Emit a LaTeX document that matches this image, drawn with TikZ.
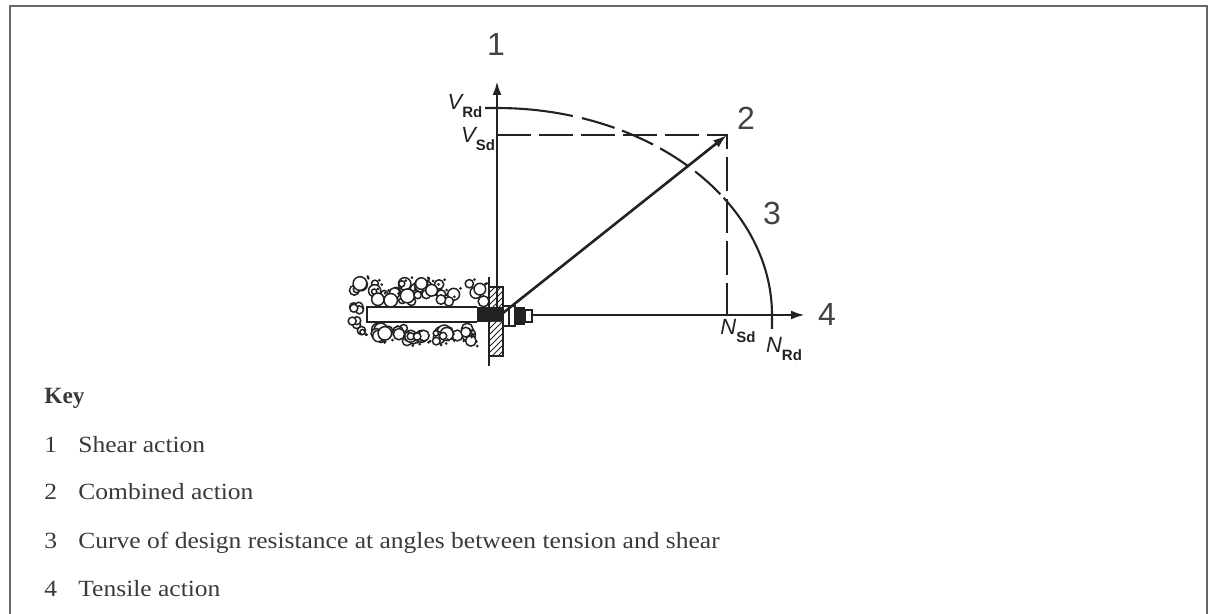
\documentclass[tikz,border=0pt]{standalone}
\usepackage{fontspec}
\setmainfont{Liberation Serif}
\newfontfamily\keyfont[FakeStretch=1.1]{Liberation Serif}
\newfontfamily\isofont{Liberation Sans}
\usetikzlibrary{positioning, arrows.meta, calc, patterns}
\definecolor{ink}{HTML}{222222}
\definecolor{keyink}{HTML}{3a3a3a}
\definecolor{framegray}{HTML}{666666}
\newcommand{\symlbl}[2]{{\itshape #1}\raisebox{-0.32em}{\fontsize{7.5}{8}\selectfont\bfseries #2}}

\begin{document}
\begin{tikzpicture}[x=0.5pt, y=-0.5pt,
  axis/.style={draw=ink, line width=1.3pt, -{Latex[length=7pt, width=4.5pt]}},
  guide/.style={draw=ink, line width=1.05pt, dash pattern=on 17pt off 4pt},
  curvepart/.style={draw=ink, line width=1.05pt},
  num/.style={font=\isofont\fontsize{16}{16}\selectfont, text=ink!85, inner sep=0pt},
  sym/.style={font=\isofont\fontsize{11}{11}\selectfont, text=ink, inner sep=0pt},
  keytext/.style={font=\keyfont\fontsize{11.6}{13}\selectfont, text=keyink, anchor=base west, inner sep=0pt},
  stone/.style={draw=ink, line width=0.75pt, fill=white}
]
  \useasboundingbox (0,0) rectangle (1208,614);
  \draw[framegray, line width=0.9pt] (10,614) -- (10,6) -- (1207,6) -- (1207,614);

  % concrete around the anchor
  \pgfmathsetseed{41}
  \foreach \i in {1,...,38} {
    \pgfmathsetmacro{\sx}{354+rnd*132}
    \pgfmathsetmacro{\sy}{283+rnd*19}
    \pgfmathsetmacro{\sr}{2.5+rnd*4.5}
    \draw[stone] (\sx,\sy) circle (\sr);
    \fill[ink] (\sx+\sr+1,\sy-\sr) circle (1.5);
  }
  \foreach \i in {1,...,36} {
    \pgfmathsetmacro{\sx}{354+rnd*124}
    \pgfmathsetmacro{\sy}{327+rnd*15}
    \pgfmathsetmacro{\sr}{2.5+rnd*4.5}
    \draw[stone] (\sx,\sy) circle (\sr);
    \fill[ink] (\sx+\sr+1,\sy+\sr) circle (1.5);
  }
  \foreach \i in {1,...,8} {
    \pgfmathsetmacro{\sx}{352+rnd*10}
    \pgfmathsetmacro{\sy}{304+rnd*22}
    \draw[stone] (\sx,\sy) circle (4);
  }

  % anchor plate, hole and bolt
  \fill[white] (367,307) rectangle (477,322);
  \draw[ink, line width=0.8pt] (477,307) -- (367,307) -- (367,322) -- (477,322);
  \fill[ink] (477,307) rectangle (503,322);
  \fill[white] (489,287) rectangle (503,307) (489,322) rectangle (503,356);
  \fill[pattern=north east lines, pattern color=ink] (489,287) rectangle (503,307);
  \fill[pattern=north east lines, pattern color=ink] (489,322) rectangle (503,356);
  \draw[ink, line width=0.7pt] (489,277) -- (489,366);
  \draw[ink, line width=0.7pt] (489,287) -- (503,287) -- (503,356) -- (489,356);
  \draw[ink, line width=0.7pt] (503,306) rectangle (509,326);
  \draw[ink, line width=0.7pt] (509,306) -- (515,306) -- (515,326) -- (509,326);
  \fill[ink] (515,307) rectangle (525,325);
  \draw[ink, line width=0.7pt] (525,310) rectangle (532,322);

  \coordinate (orig) at (497,315);
  \coordinate (axisfoot) at (497,307);
  \coordinate (bolt) at (503,313);
  \coordinate (boltend) at (532,315);
  \coordinate (axistop) at (497,81);
  \coordinate (axisend) at (805,315);
  \coordinate (vsd) at (497,135);
  \coordinate (action) at (727,135);
  \coordinate (nsd) at (727,315);
  \coordinate (vrdtick) at (485,108);
  \coordinate (vrd) at (497,108);
  \coordinate (nrd) at (772,329);

  % axes and combined action
  \draw[axis] (axisfoot) -- (axistop);
  \draw[axis] (boltend) -- (axisend);
  \draw[axis] (bolt) -- (action);
  \draw[guide] (vsd) -- (action) -- (nsd);

  % resistance curve
  \draw[curvepart] (vrdtick) -- (vrd) -- plot[domain=90:74, samples=12] ({497+275*cos(\x)},{315-207*sin(\x)});
  \draw[guide] plot[domain=72:35.5, samples=40] ({497+275*cos(\x)},{315-207*sin(\x)});
  \draw[curvepart] plot[domain=34.5:0, samples=30] ({497+275*cos(\x)},{315-207*sin(\x)}) -- (nrd);

  \node[num] (lbla) at (496,44) {1};
  \node[num] (lblb) at (746,118) {2};
  \node[num] (lblc) at (772,213) {3};
  \node[num] (lbld) at (827,314) {4};
  \node[sym] (vrdlbl) at (465,106) {\symlbl{V}{Rd}};
  \node[sym] (vsdlbl) at (478,139) {\symlbl{V}{Sd}};
  \node[sym] (nsdlbl) at (738,331) {\symlbl{N}{Sd}};
  \node[sym] (nrdlbl) at (784,349) {\symlbl{N}{Rd}};

  \node[keytext, font=\fontsize{11.66}{13}\selectfont\bfseries] (keyhead) at (44,403) {Key};
  \node[keytext] (numa) at (44,452) {1};
  \node[keytext] (texta) at (78,452) {Shear action};
  \node[keytext] (numb) at (44,499) {2};
  \node[keytext] (textb) at (78,499) {Combined action};
  \node[keytext] (numc) at (44,548) {3};
  \node[keytext] (textc) at (78,548) {Curve of design resistance at angles between tension and shear};
  \node[keytext] (numd) at (44,596) {4};
  \node[keytext] (textd) at (78,596) {Tensile action};
\end{tikzpicture}
\end{document}
